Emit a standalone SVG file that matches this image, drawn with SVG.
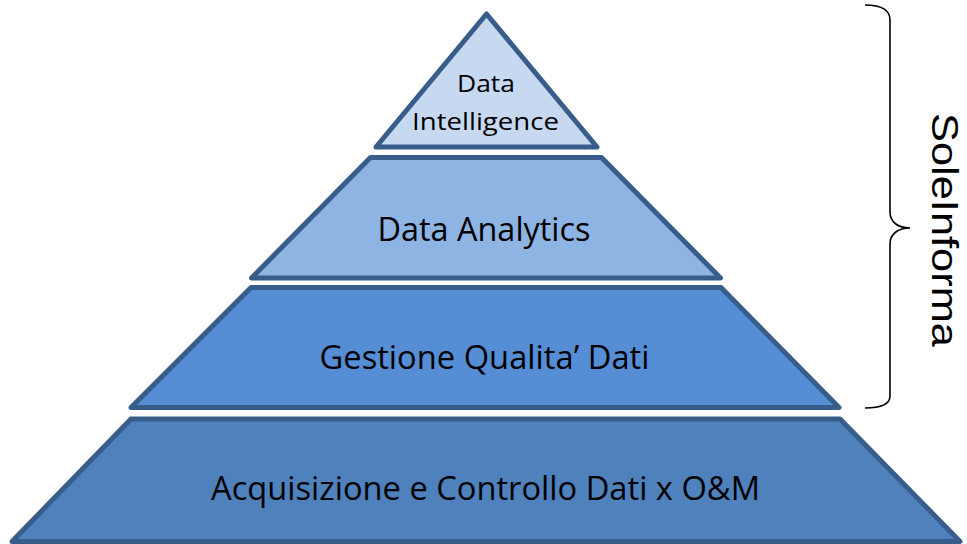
<svg xmlns="http://www.w3.org/2000/svg" width="967" height="544" viewBox="0 0 967 544">
<style>
.lvl{stroke:#385d8a;stroke-width:5;stroke-linejoin:round}
.t{font-family:"Open Sans","Liberation Sans",sans-serif;fill:#000;text-anchor:middle}
.side{font-family:"Liberation Sans","Open Sans",sans-serif;fill:#000;text-anchor:middle}
</style>
<rect width="967" height="544" fill="#fff"/>
<g id="level-intelligence">
<polygon class="lvl" fill="#c6d9f1" points="486.5,14 597,147 376,147"/>
<text class="t" x="486" y="92" font-size="24.5" textLength="58" lengthAdjust="spacingAndGlyphs">Data</text>
<text class="t" x="485.5" y="130" font-size="24.5" textLength="147" lengthAdjust="spacingAndGlyphs">Intelligence</text>
</g>
<g id="level-analytics">
<polygon class="lvl" fill="#8eb4e3" points="370.5,157.5 601.5,157.5 720.5,278 251.5,278"/>
<text class="t" x="484" y="241" font-size="32" textLength="213" lengthAdjust="spacingAndGlyphs">Data Analytics</text>
</g>
<g id="level-qualita">
<polygon class="lvl" fill="#558ed5" points="251,287.5 721,287.5 839,407.5 131,407.5"/>
<text class="t" x="484.5" y="368.5" font-size="32" textLength="330" lengthAdjust="spacingAndGlyphs">Gestione Qualita’ Dati</text>
</g>
<g id="level-acquisizione">
<polygon class="lvl" fill="#4f81bd" points="131,419 840,419 960,541.5 12,541.5"/>
<text class="t" x="485.5" y="499.5" font-size="32" textLength="549" lengthAdjust="spacingAndGlyphs">Acquisizione e Controllo Dati x O&amp;M</text>
</g>
<g id="connectors">
<path d="M865,5 C881,5 890,9 890,20 L890,212 C890,222 898,228 910,228 C898,228 890,234 890,244 L890,396 C890,404 881,408 865,408" fill="none" stroke="#000" stroke-width="1.6"/>
</g>
<g id="label-soleinforma">
<text class="side" transform="translate(932,230) rotate(90)" x="0" y="0" font-size="36" textLength="234" lengthAdjust="spacingAndGlyphs">SoleInforma</text>
</g>
</svg>
